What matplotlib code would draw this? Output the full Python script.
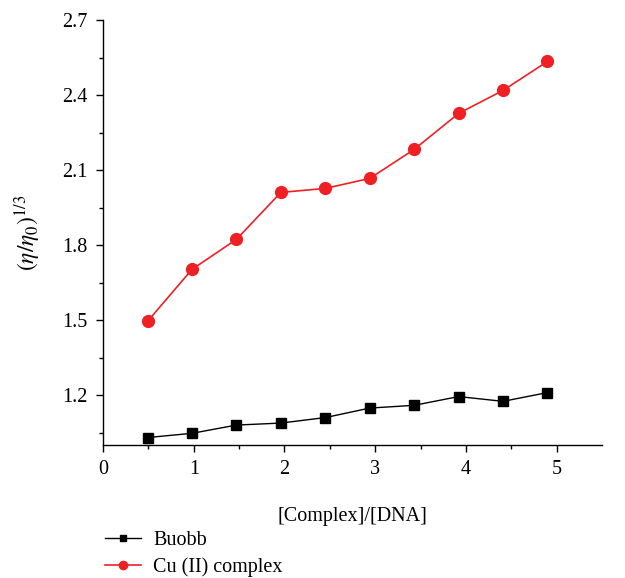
import numpy as np
import matplotlib.pyplot as plt

plt.rcParams['font.family'] = ['Liberation Serif', 'DejaVu Serif']
plt.rcParams['mathtext.fontset'] = 'stix'

# ratio [Complex]/[DNA]
ratio = [0.49, 0.98, 1.47, 1.96, 2.45, 2.94, 3.43, 3.92, 4.41, 4.90]
# relative viscosity (eta/eta0)^(1/3)
buobb = [1.030, 1.047, 1.080, 1.088, 1.110, 1.148, 1.159, 1.194, 1.175, 1.210]
cu_complex = [1.495, 1.703, 1.823, 2.011, 2.027, 2.067, 2.183, 2.327, 2.419, 2.535]

fig = plt.figure(figsize=(6.25, 5.78), dpi=100)
ax = fig.add_axes([0.165, 0.23, 0.798, 0.735])

ax.plot(ratio, buobb, color='black', marker='s', markersize=7, linewidth=1,
        label='Buobb')
ax.plot(ratio, cu_complex, color='#ee2024', marker='o', markersize=8.5, linewidth=1.2,
        label='Cu (II) complex')

ax.set_xlim(0, 5.5)
ax.set_ylim(1.0, 2.7)
ax.set_xticks([0, 1, 2, 3, 4, 5])
ax.set_xticks(np.arange(0.5, 5.5, 1.0), minor=True)
ax.set_yticks([1.2, 1.5, 1.8, 2.1, 2.4, 2.7])
ax.set_yticks([1.05, 1.35, 1.65, 1.95, 2.25, 2.55], minor=True)
ax.tick_params(axis='both', which='major', labelsize=14.5, length=5, width=1,
               direction='out', pad=6)
ax.tick_params(axis='both', which='minor', length=3, width=1, direction='out')

for side in ['top', 'right']:
    ax.spines[side].set_visible(False)
for side in ['left', 'bottom']:
    ax.spines[side].set_linewidth(1)

ax.set_xlabel('[Complex]/[DNA]', fontsize=14.5, labelpad=20)
ax.set_ylabel(r'$(\eta/\eta_0)^{1/3}$', fontsize=17, labelpad=14)

fig.legend(loc='center left', bbox_to_anchor=(0.152, 0.042), frameon=False,
           fontsize=14.5, markerscale=0.7, handlelength=1.8, handletextpad=0.6,
           labelspacing=0.35, borderpad=0)

fig.savefig('out.png', dpi=100)
